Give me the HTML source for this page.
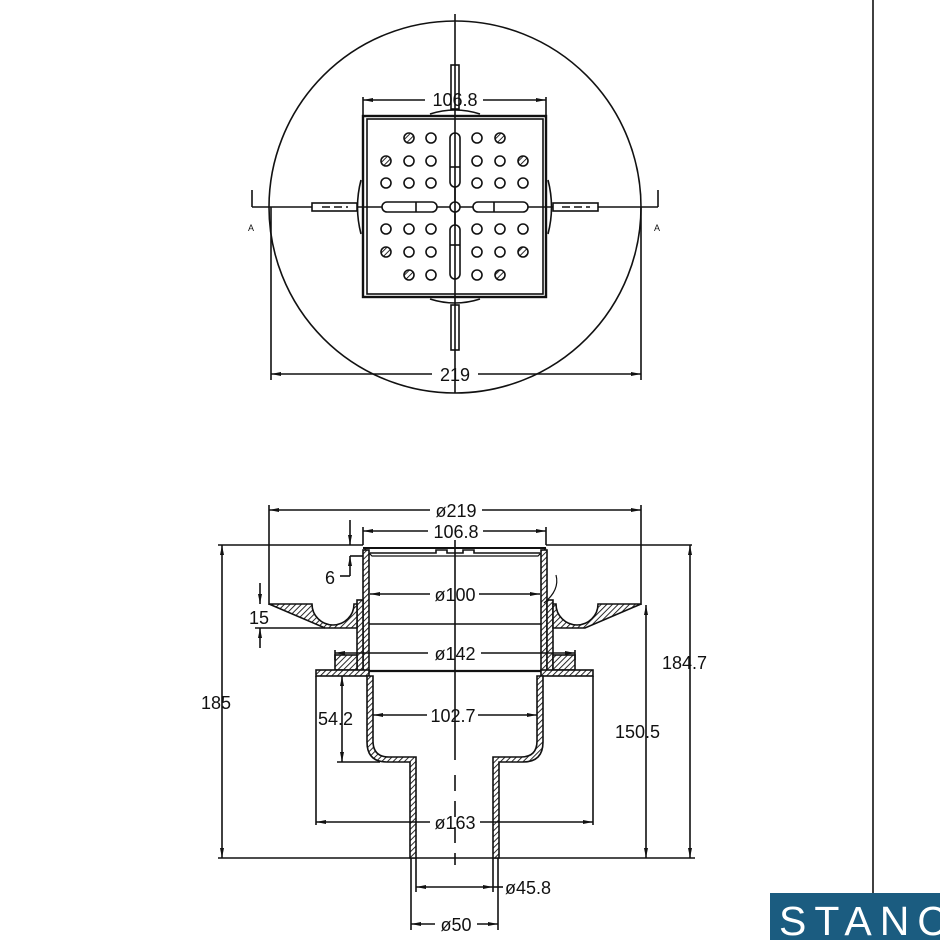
<!DOCTYPE html>
<html><head><meta charset="utf-8"><style>
html,body{margin:0;padding:0;background:#fff}
svg{display:block}
text{font-family:"Liberation Sans",sans-serif;fill:#111}
</style></head><body>
<svg width="940" height="940" viewBox="0 0 940 940" xmlns="http://www.w3.org/2000/svg">
<defs>
<pattern id="h" width="4" height="4" patternUnits="userSpaceOnUse" patternTransform="rotate(45)">
<rect width="4" height="4" fill="#fff"/><line x1="0" y1="0" x2="0" y2="4" stroke="#111" stroke-width="1.8"/></pattern>
<marker id="a" viewBox="0 0 10 6" refX="10" refY="3" markerWidth="10" markerHeight="6" orient="auto-start-reverse" markerUnits="userSpaceOnUse"><path d="M0,1 L10,3 L0,5 Z" fill="#111"/></marker>
</defs>
<g stroke="#111" fill="none" stroke-width="1.6">
<!-- TOP VIEW -->
<circle cx="455" cy="207" r="186"/>
<line x1="455" y1="14" x2="455" y2="393"/>
<line x1="252" y1="207" x2="658" y2="207"/>
<line x1="252" y1="190" x2="252" y2="207"/><line x1="658" y1="190" x2="658" y2="207"/>
<rect x="363" y="116" width="183" height="181" stroke-width="2.4"/>
<rect x="367" y="119" width="176" height="175"/>
<line x1="363" y1="97" x2="363" y2="116"/><line x1="546" y1="97" x2="546" y2="116"/>
<line x1="363" y1="100" x2="425" y2="100" marker-start="url(#a)"/><line x1="483" y1="100" x2="546" y2="100" marker-end="url(#a)"/>
<path d="M430,114 Q455,106 480,114"/><path d="M430,299 Q455,307 480,299"/>
<path d="M361,180 Q354,207 361,234"/><path d="M548,180 Q555,207 548,234"/>
<line x1="271" y1="207" x2="271" y2="380"/><line x1="641" y1="207" x2="641" y2="380"/>
<line x1="271" y1="374" x2="432" y2="374" marker-start="url(#a)"/><line x1="478" y1="374" x2="641" y2="374" marker-end="url(#a)"/>
<!-- slots -->
<rect x="450" y="133" width="10" height="54" rx="5" fill="#fff"/>
<rect x="450" y="225" width="10" height="54" rx="5" fill="#fff"/>
<rect x="382" y="202" width="55" height="10" rx="5" fill="#fff"/>
<rect x="473" y="202" width="55" height="10" rx="5" fill="#fff"/>
<line x1="450" y1="167" x2="460" y2="167"/><line x1="450" y1="245" x2="460" y2="245"/>
<line x1="416" y1="202" x2="416" y2="212"/><line x1="494" y1="202" x2="494" y2="212"/>
<circle cx="455" cy="207" r="5" fill="#fff"/>
<line x1="455" y1="133" x2="455" y2="279"/>
<rect x="312" y="203" width="45" height="8" fill="#fff"/><rect x="553" y="203" width="45" height="8" fill="#fff"/>
<rect x="451" y="65" width="8" height="44" fill="#fff"/><rect x="451" y="305" width="8" height="45" fill="#fff"/>
<line x1="322" y1="207" x2="348" y2="207" stroke-dasharray="8 4"/><line x1="562" y1="207" x2="590" y2="207" stroke-dasharray="8 4"/>
<line x1="455" y1="65" x2="455" y2="109"/><line x1="455" y1="305" x2="455" y2="350"/>
<!-- holes -->
<g fill="#fff">
<circle cx="409" cy="138" r="5" fill="url(#h)"/><circle cx="431" cy="138" r="5"/><circle cx="477" cy="138" r="5"/><circle cx="500" cy="138" r="5" fill="url(#h)"/>
<circle cx="386" cy="161" r="5" fill="url(#h)"/><circle cx="409" cy="161" r="5"/><circle cx="431" cy="161" r="5"/><circle cx="477" cy="161" r="5"/><circle cx="500" cy="161" r="5"/><circle cx="523" cy="161" r="5" fill="url(#h)"/>
<circle cx="386" cy="183" r="5"/><circle cx="409" cy="183" r="5"/><circle cx="431" cy="183" r="5"/><circle cx="477" cy="183" r="5"/><circle cx="500" cy="183" r="5"/><circle cx="523" cy="183" r="5"/>
<circle cx="386" cy="229" r="5"/><circle cx="409" cy="229" r="5"/><circle cx="431" cy="229" r="5"/><circle cx="477" cy="229" r="5"/><circle cx="500" cy="229" r="5"/><circle cx="523" cy="229" r="5"/>
<circle cx="386" cy="252" r="5" fill="url(#h)"/><circle cx="409" cy="252" r="5"/><circle cx="431" cy="252" r="5"/><circle cx="477" cy="252" r="5"/><circle cx="500" cy="252" r="5"/><circle cx="523" cy="252" r="5" fill="url(#h)"/>
<circle cx="409" cy="275" r="5" fill="url(#h)"/><circle cx="431" cy="275" r="5"/><circle cx="477" cy="275" r="5"/><circle cx="500" cy="275" r="5" fill="url(#h)"/>
</g>

<!-- SECTION VIEW -->
<line x1="455" y1="540" x2="455" y2="760"/>
<line x1="455" y1="775" x2="455" y2="865" stroke-dasharray="16 10"/>
<line x1="269" y1="505" x2="269" y2="605"/><line x1="641" y1="505" x2="641" y2="605"/>
<line x1="269" y1="510" x2="430" y2="510" marker-start="url(#a)"/><line x1="482" y1="510" x2="641" y2="510" marker-end="url(#a)"/>
<line x1="363" y1="527" x2="363" y2="545"/><line x1="546" y1="527" x2="546" y2="545"/>
<line x1="363" y1="531" x2="428" y2="531" marker-start="url(#a)"/><line x1="483" y1="531" x2="546" y2="531" marker-end="url(#a)"/>
<line x1="218" y1="545" x2="363" y2="545"/><line x1="546" y1="545" x2="692" y2="545"/>
<line x1="218" y1="858" x2="695" y2="858"/>
<line x1="222" y1="545" x2="222" y2="858" marker-start="url(#a)" marker-end="url(#a)"/>
<line x1="690" y1="545" x2="690" y2="858" marker-start="url(#a)" marker-end="url(#a)"/>
<line x1="646" y1="605" x2="646" y2="858" marker-start="url(#a)" marker-end="url(#a)"/>
<!-- grate top -->
<line x1="363" y1="548" x2="546" y2="548" stroke-width="2"/>
<path d="M370,553 L436,553 L436,550 L447,550 L447,553 L463,553 L463,550 L474,550 L474,553 L540,553"/>
<path d="M364,548 L372,556 L538,556 L546,548" stroke-width="1.2"/>
<!-- upper walls -->
<rect x="363" y="550" width="6" height="122" fill="url(#h)"/>
<rect x="541" y="550" width="6" height="122" fill="url(#h)"/>
<rect x="357" y="600" width="6" height="72" fill="url(#h)"/>
<rect x="547" y="600" width="6" height="72" fill="url(#h)"/>
<line x1="369" y1="624" x2="541" y2="624"/>
<!-- flanges -->
<path d="M269,604 L312,604 A21,21 0 0 0 354,604 L357,604 L357,628 L325,628 Z" fill="url(#h)"/>
<path d="M641,604 L598,604 A21,21 0 0 1 556,604 L553,604 L553,628 L585,628 Z" fill="url(#h)"/>
<path d="M544,603 Q560,590 556,575" stroke-width="1.2"/>
<!-- sleeve rings -->
<rect x="335" y="655" width="22" height="15" fill="url(#h)"/>
<rect x="553" y="655" width="22" height="15" fill="url(#h)"/>
<!-- plate -->
<rect x="316" y="670" width="53" height="6" fill="url(#h)"/>
<rect x="541" y="670" width="52" height="6" fill="url(#h)"/>
<line x1="369" y1="671" x2="541" y2="671" stroke-width="2.2"/>
<line x1="316" y1="676" x2="316" y2="825"/><line x1="593" y1="676" x2="593" y2="825"/>
<!-- bowl -->
<path d="M367,676 L367,742 Q367,762 387,762 L410,762 L410,858 L416,858 L416,757 L389,757 Q373,757 373,741 L373,676 Z" fill="url(#h)"/>
<path d="M543,676 L543,742 Q543,762 523,762 L499,762 L499,858 L493,858 L493,757 L521,757 Q537,757 537,741 L537,676 Z" fill="url(#h)"/>
<!-- inner dims -->
<line x1="370" y1="594" x2="430" y2="594" marker-start="url(#a)"/><line x1="479" y1="594" x2="540" y2="594" marker-end="url(#a)"/>
<line x1="335" y1="653" x2="428" y2="653" marker-start="url(#a)"/><line x1="481" y1="653" x2="575" y2="653" marker-end="url(#a)"/>
<line x1="335" y1="650" x2="335" y2="660"/><line x1="575" y1="650" x2="575" y2="660"/>
<line x1="373" y1="715" x2="427" y2="715" marker-start="url(#a)"/><line x1="478" y1="715" x2="537" y2="715" marker-end="url(#a)"/>
<line x1="316" y1="822" x2="430" y2="822" marker-start="url(#a)"/><line x1="480" y1="822" x2="593" y2="822" marker-end="url(#a)"/>
<line x1="342" y1="676" x2="342" y2="762" marker-start="url(#a)" marker-end="url(#a)"/>
<line x1="337" y1="762" x2="380" y2="762"/>
<line x1="411" y1="858" x2="411" y2="930"/><line x1="498" y1="858" x2="498" y2="930"/>
<line x1="416" y1="858" x2="416" y2="892"/><line x1="493" y1="858" x2="493" y2="892"/>
<line x1="416" y1="887" x2="493" y2="887" marker-start="url(#a)" marker-end="url(#a)"/>
<line x1="493" y1="887" x2="503" y2="887"/>
<line x1="411" y1="924" x2="435" y2="924" marker-start="url(#a)"/><line x1="477" y1="924" x2="498" y2="924" marker-end="url(#a)"/>
<!-- 6 dim -->
<line x1="350" y1="520" x2="350" y2="545" marker-end="url(#a)"/>
<line x1="350" y1="576" x2="350" y2="556" marker-end="url(#a)"/>
<line x1="350" y1="556" x2="363" y2="556"/>
<line x1="340" y1="576" x2="350" y2="576"/>
<!-- 15 dim -->
<line x1="260" y1="583" x2="260" y2="604" marker-end="url(#a)"/>
<line x1="260" y1="648" x2="260" y2="628" marker-end="url(#a)"/>
<line x1="255" y1="628" x2="325" y2="628"/>
<!-- frame -->
<line x1="873" y1="0" x2="873" y2="893"/>
</g>
<g font-size="18">
<text x="455" y="106" text-anchor="middle">106.8</text>
<text x="455" y="381" text-anchor="middle">219</text>
<text x="456" y="517" text-anchor="middle">ø219</text>
<text x="456" y="538" text-anchor="middle">106.8</text>
<text x="455" y="601" text-anchor="middle">ø100</text>
<text x="455" y="660" text-anchor="middle">ø142</text>
<text x="453" y="722" text-anchor="middle">102.7</text>
<text x="455" y="829" text-anchor="middle">ø163</text>
<text x="505" y="894">ø45.8</text>
<text x="456" y="931" text-anchor="middle">ø50</text>
<text x="201" y="709">185</text>
<text x="662" y="669">184.7</text>
<text x="615" y="738">150.5</text>
<text x="318" y="725">54.2</text>
<text x="325" y="584">6</text>
<text x="249" y="624">15</text>
</g>
<text x="248" y="231" font-size="9">A</text><text x="654" y="231" font-size="9">A</text>
<rect x="770" y="893" width="170" height="47" fill="#1b5c80"/>
<text x="779" y="935" font-size="41" letter-spacing="8" style="fill:#fff">STANC</text>
</svg>
</body></html>
